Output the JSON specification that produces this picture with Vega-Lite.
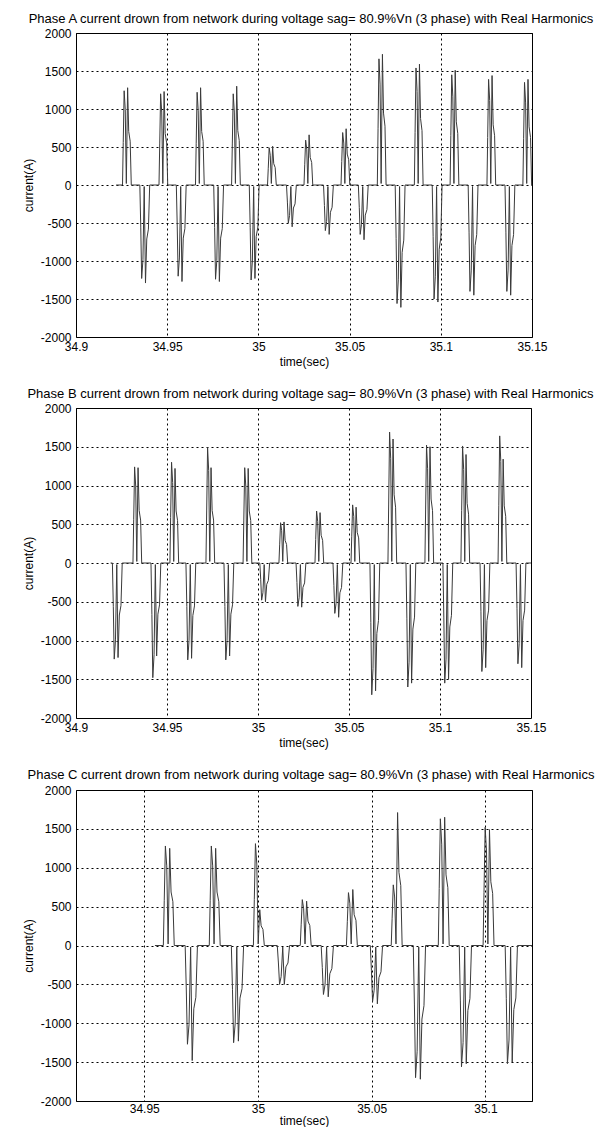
{
  "$schema": "https://vega.github.io/schema/vega-lite/v6.json",
  "background": "white",
  "padding": {"left": 21, "top": 12, "right": 0, "bottom": 0},
  "config": {
    "font": "Liberation Sans",
    "view": {"stroke": "black", "strokeWidth": 1},
    "axis": {
      "grid": true, "gridColor": "black", "gridDash": [2, 3], "gridOpacity": 1, "gridWidth": 1,
      "domain": false, "ticks": false, "labelFlush": false, "labelOverlap": false,
      "labelFont": "Liberation Sans", "labelFontSize": 12, "labelColor": "black",
      "titleFont": "Liberation Sans", "titleFontSize": 12, "titleFontWeight": "normal", "titleColor": "black"
    },
    "title": {"font": "Liberation Sans", "fontSize": 13, "fontWeight": "normal", "color": "black", "offset": 0, "frame": "group", "anchor": "middle", "dx": 7},
    "concat": {"spacing": 19},
    "line": {"color": "#3a3a3a", "strokeWidth": 1, "clip": true}
  },
  "datasets": {
    "phaseA": [
      {"t":34.922,"i":0},
      {"t":34.9255,"i":0},{"t":34.9259,"i":558},{"t":34.9264,"i":1240},{"t":34.927,"i":992},{"t":34.9276,"i":20},{"t":34.9283,"i":1280},{"t":34.9289,"i":704},{"t":34.9297,"i":576},{"t":34.9303,"i":0},
      {"t":34.935,"i":0},{"t":34.9355,"i":-554},{"t":34.936,"i":-1230},{"t":34.9367,"i":-984},{"t":34.9374,"i":-20},{"t":34.9381,"i":-1290},{"t":34.9388,"i":-710},{"t":34.9397,"i":-581},{"t":34.9404,"i":0},
      {"t":34.9455,"i":0},{"t":34.9459,"i":540},{"t":34.9464,"i":1200},{"t":34.947,"i":960},{"t":34.9476,"i":20},{"t":34.9483,"i":1230},{"t":34.9489,"i":677},{"t":34.9497,"i":554},{"t":34.9503,"i":0},
      {"t":34.955,"i":0},{"t":34.9555,"i":-540},{"t":34.956,"i":-1200},{"t":34.9567,"i":-960},{"t":34.9574,"i":-20},{"t":34.9581,"i":-1270},{"t":34.9588,"i":-699},{"t":34.9597,"i":-572},{"t":34.9604,"i":0},
      {"t":34.9655,"i":0},{"t":34.9659,"i":549},{"t":34.9664,"i":1220},{"t":34.967,"i":976},{"t":34.9676,"i":20},{"t":34.9683,"i":1280},{"t":34.9689,"i":704},{"t":34.9697,"i":576},{"t":34.9703,"i":0},
      {"t":34.9755,"i":0},{"t":34.976,"i":-558},{"t":34.9765,"i":-1240},{"t":34.9772,"i":-992},{"t":34.9779,"i":-20},{"t":34.9786,"i":-1270},{"t":34.9793,"i":-699},{"t":34.9802,"i":-572},{"t":34.9809,"i":0},
      {"t":34.9853,"i":0},{"t":34.9857,"i":540},{"t":34.9862,"i":1200},{"t":34.9868,"i":960},{"t":34.9874,"i":20},{"t":34.9881,"i":1300},{"t":34.9887,"i":715},{"t":34.9895,"i":585},{"t":34.9901,"i":0},
      {"t":34.995,"i":0},{"t":34.9955,"i":-563},{"t":34.996,"i":-1250},{"t":34.9967,"i":-1000},{"t":34.9974,"i":-20},{"t":34.9981,"i":-1230},{"t":34.9988,"i":-677},{"t":34.9997,"i":-554},{"t":35.0004,"i":0},
      {"t":35.005,"i":0},{"t":35.0054,"i":221},{"t":35.0059,"i":490},{"t":35.0065,"i":392},{"t":35.0071,"i":20},{"t":35.0078,"i":510},{"t":35.0084,"i":281},{"t":35.0092,"i":230},{"t":35.0098,"i":0},
      {"t":35.0154,"i":0},{"t":35.0159,"i":-225},{"t":35.0164,"i":-500},{"t":35.0171,"i":-400},{"t":35.0178,"i":-20},{"t":35.0185,"i":-550},{"t":35.0192,"i":-303},{"t":35.0201,"i":-248},{"t":35.0208,"i":0},
      {"t":35.025,"i":0},{"t":35.0254,"i":266},{"t":35.0259,"i":590},{"t":35.0265,"i":472},{"t":35.0271,"i":20},{"t":35.0278,"i":660},{"t":35.0284,"i":363},{"t":35.0292,"i":297},{"t":35.0298,"i":0},
      {"t":35.0357,"i":0},{"t":35.0362,"i":-270},{"t":35.0367,"i":-600},{"t":35.0374,"i":-480},{"t":35.0381,"i":-20},{"t":35.0388,"i":-650},{"t":35.0395,"i":-358},{"t":35.0404,"i":-293},{"t":35.0411,"i":0},
      {"t":35.0453,"i":0},{"t":35.0457,"i":311},{"t":35.0462,"i":690},{"t":35.0468,"i":552},{"t":35.0474,"i":20},{"t":35.0481,"i":740},{"t":35.0487,"i":407},{"t":35.0495,"i":333},{"t":35.0501,"i":0},
      {"t":35.0548,"i":0},{"t":35.0553,"i":-293},{"t":35.0558,"i":-650},{"t":35.0565,"i":-520},{"t":35.0572,"i":-20},{"t":35.0579,"i":-720},{"t":35.0586,"i":-396},{"t":35.0595,"i":-324},{"t":35.0602,"i":0},
      {"t":35.0652,"i":0},{"t":35.0656,"i":747},{"t":35.0661,"i":1660},{"t":35.0667,"i":1328},{"t":35.0673,"i":20},{"t":35.068,"i":1720},{"t":35.0686,"i":946},{"t":35.0694,"i":774},{"t":35.07,"i":0},
      {"t":35.075,"i":0},{"t":35.0755,"i":-702},{"t":35.076,"i":-1560},{"t":35.0767,"i":-1248},{"t":35.0774,"i":-20},{"t":35.0781,"i":-1610},{"t":35.0788,"i":-886},{"t":35.0797,"i":-725},{"t":35.0804,"i":0},
      {"t":35.0855,"i":0},{"t":35.0859,"i":693},{"t":35.0864,"i":1540},{"t":35.087,"i":1232},{"t":35.0876,"i":20},{"t":35.0883,"i":1590},{"t":35.0889,"i":875},{"t":35.0897,"i":716},{"t":35.0903,"i":0},
      {"t":35.0953,"i":0},{"t":35.0958,"i":-675},{"t":35.0963,"i":-1500},{"t":35.097,"i":-1200},{"t":35.0977,"i":-20},{"t":35.0984,"i":-1540},{"t":35.0991,"i":-847},{"t":35.1,"i":-693},{"t":35.1007,"i":0},
      {"t":35.1051,"i":0},{"t":35.1055,"i":653},{"t":35.106,"i":1450},{"t":35.1066,"i":1160},{"t":35.1072,"i":20},{"t":35.1079,"i":1510},{"t":35.1085,"i":831},{"t":35.1093,"i":680},{"t":35.1099,"i":0},
      {"t":35.115,"i":0},{"t":35.1155,"i":-630},{"t":35.116,"i":-1400},{"t":35.1167,"i":-1120},{"t":35.1174,"i":-20},{"t":35.1181,"i":-1450},{"t":35.1188,"i":-798},{"t":35.1197,"i":-653},{"t":35.1204,"i":0},
      {"t":35.1253,"i":0},{"t":35.1257,"i":626},{"t":35.1262,"i":1390},{"t":35.1268,"i":1112},{"t":35.1274,"i":20},{"t":35.1281,"i":1440},{"t":35.1287,"i":792},{"t":35.1295,"i":648},{"t":35.1301,"i":0},
      {"t":35.1352,"i":0},{"t":35.1357,"i":-630},{"t":35.1362,"i":-1400},{"t":35.1369,"i":-1120},{"t":35.1376,"i":-20},{"t":35.1383,"i":-1450},{"t":35.139,"i":-798},{"t":35.1399,"i":-653},{"t":35.1406,"i":0},
      {"t":35.145,"i":0},{"t":35.1454,"i":608},{"t":35.1459,"i":1350},{"t":35.1465,"i":1080},{"t":35.1471,"i":20},{"t":35.1478,"i":1390},{"t":35.1484,"i":765},{"t":35.1492,"i":626},{"t":35.1498,"i":0},
      {"t":35.15,"i":0}
    ],
    "phaseB": [
      {"t":34.919,"i":0},
      {"t":34.92,"i":0},{"t":34.9205,"i":-558},{"t":34.921,"i":-1240},{"t":34.9217,"i":-992},{"t":34.9224,"i":-20},{"t":34.9231,"i":-1220},{"t":34.9238,"i":-671},{"t":34.9247,"i":-549},{"t":34.9254,"i":0},
      {"t":34.9313,"i":0},{"t":34.9317,"i":558},{"t":34.9322,"i":1240},{"t":34.9328,"i":992},{"t":34.9334,"i":20},{"t":34.9341,"i":1230},{"t":34.9347,"i":677},{"t":34.9355,"i":554},{"t":34.9361,"i":0},
      {"t":34.9412,"i":0},{"t":34.9417,"i":-666},{"t":34.9422,"i":-1480},{"t":34.9429,"i":-1184},{"t":34.9436,"i":-20},{"t":34.9443,"i":-1200},{"t":34.945,"i":-660},{"t":34.9459,"i":-540},{"t":34.9466,"i":0},
      {"t":34.9516,"i":0},{"t":34.952,"i":585},{"t":34.9525,"i":1300},{"t":34.9531,"i":1040},{"t":34.9537,"i":20},{"t":34.9544,"i":1220},{"t":34.955,"i":671},{"t":34.9558,"i":549},{"t":34.9564,"i":0},
      {"t":34.9604,"i":0},{"t":34.9609,"i":-563},{"t":34.9614,"i":-1250},{"t":34.9621,"i":-1000},{"t":34.9628,"i":-20},{"t":34.9635,"i":-1230},{"t":34.9642,"i":-677},{"t":34.9651,"i":-554},{"t":34.9658,"i":0},
      {"t":34.9714,"i":0},{"t":34.9718,"i":671},{"t":34.9723,"i":1490},{"t":34.9729,"i":1192},{"t":34.9735,"i":20},{"t":34.9742,"i":1230},{"t":34.9748,"i":677},{"t":34.9756,"i":554},{"t":34.9762,"i":0},
      {"t":34.9813,"i":0},{"t":34.9818,"i":-563},{"t":34.9823,"i":-1250},{"t":34.983,"i":-1000},{"t":34.9837,"i":-20},{"t":34.9844,"i":-1200},{"t":34.9851,"i":-660},{"t":34.986,"i":-540},{"t":34.9867,"i":0},
      {"t":34.9918,"i":0},{"t":34.9922,"i":554},{"t":34.9927,"i":1230},{"t":34.9933,"i":984},{"t":34.9939,"i":20},{"t":34.9946,"i":1220},{"t":34.9952,"i":671},{"t":34.996,"i":549},{"t":34.9966,"i":0},
      {"t":35.001,"i":0},{"t":35.0015,"i":-216},{"t":35.002,"i":-480},{"t":35.0027,"i":-384},{"t":35.0034,"i":-20},{"t":35.0041,"i":-500},{"t":35.0048,"i":-275},{"t":35.0057,"i":-225},{"t":35.0064,"i":0},
      {"t":35.0115,"i":0},{"t":35.0119,"i":234},{"t":35.0124,"i":520},{"t":35.013,"i":416},{"t":35.0136,"i":20},{"t":35.0143,"i":530},{"t":35.0149,"i":292},{"t":35.0157,"i":239},{"t":35.0163,"i":0},
      {"t":35.0209,"i":0},{"t":35.0214,"i":-252},{"t":35.0219,"i":-560},{"t":35.0226,"i":-448},{"t":35.0233,"i":-20},{"t":35.024,"i":-570},{"t":35.0247,"i":-314},{"t":35.0256,"i":-257},{"t":35.0263,"i":0},
      {"t":35.0313,"i":0},{"t":35.0317,"i":302},{"t":35.0322,"i":670},{"t":35.0328,"i":536},{"t":35.0334,"i":20},{"t":35.0341,"i":650},{"t":35.0347,"i":358},{"t":35.0355,"i":293},{"t":35.0361,"i":0},
      {"t":35.0412,"i":0},{"t":35.0417,"i":-293},{"t":35.0422,"i":-650},{"t":35.0429,"i":-520},{"t":35.0436,"i":-20},{"t":35.0443,"i":-700},{"t":35.045,"i":-385},{"t":35.0459,"i":-315},{"t":35.0466,"i":0},
      {"t":35.0511,"i":0},{"t":35.0515,"i":338},{"t":35.052,"i":750},{"t":35.0526,"i":600},{"t":35.0532,"i":20},{"t":35.0539,"i":720},{"t":35.0545,"i":396},{"t":35.0553,"i":324},{"t":35.0559,"i":0},
      {"t":35.0615,"i":0},{"t":35.062,"i":-765},{"t":35.0625,"i":-1700},{"t":35.0632,"i":-1360},{"t":35.0639,"i":-20},{"t":35.0646,"i":-1650},{"t":35.0653,"i":-908},{"t":35.0662,"i":-743},{"t":35.0669,"i":0},
      {"t":35.0714,"i":0},{"t":35.0718,"i":761},{"t":35.0723,"i":1690},{"t":35.0729,"i":1352},{"t":35.0735,"i":20},{"t":35.0742,"i":1600},{"t":35.0748,"i":880},{"t":35.0756,"i":720},{"t":35.0762,"i":0},
      {"t":35.0813,"i":0},{"t":35.0818,"i":-720},{"t":35.0823,"i":-1600},{"t":35.083,"i":-1280},{"t":35.0837,"i":-20},{"t":35.0844,"i":-1550},{"t":35.0851,"i":-853},{"t":35.086,"i":-698},{"t":35.0867,"i":0},
      {"t":35.0917,"i":0},{"t":35.0921,"i":684},{"t":35.0926,"i":1520},{"t":35.0932,"i":1216},{"t":35.0938,"i":20},{"t":35.0945,"i":1500},{"t":35.0951,"i":825},{"t":35.0959,"i":675},{"t":35.0965,"i":0},
      {"t":35.1016,"i":0},{"t":35.1021,"i":-698},{"t":35.1026,"i":-1550},{"t":35.1033,"i":-1240},{"t":35.104,"i":-20},{"t":35.1047,"i":-1500},{"t":35.1054,"i":-825},{"t":35.1063,"i":-675},{"t":35.107,"i":0},
      {"t":35.1115,"i":0},{"t":35.1119,"i":680},{"t":35.1124,"i":1510},{"t":35.113,"i":1208},{"t":35.1136,"i":20},{"t":35.1143,"i":1400},{"t":35.1149,"i":770},{"t":35.1157,"i":630},{"t":35.1163,"i":0},
      {"t":35.122,"i":0},{"t":35.1225,"i":-630},{"t":35.123,"i":-1400},{"t":35.1237,"i":-1120},{"t":35.1244,"i":-20},{"t":35.1251,"i":-1350},{"t":35.1258,"i":-743},{"t":35.1267,"i":-608},{"t":35.1274,"i":0},
      {"t":35.1319,"i":0},{"t":35.1323,"i":738},{"t":35.1328,"i":1640},{"t":35.1334,"i":1312},{"t":35.134,"i":20},{"t":35.1347,"i":1340},{"t":35.1353,"i":737},{"t":35.1361,"i":603},{"t":35.1367,"i":0},
      {"t":35.1418,"i":0},{"t":35.1423,"i":-585},{"t":35.1428,"i":-1300},{"t":35.1435,"i":-1040},{"t":35.1442,"i":-20},{"t":35.1449,"i":-1350},{"t":35.1456,"i":-743},{"t":35.1465,"i":-608},{"t":35.1472,"i":0},
      {"t":35.15,"i":0}
    ],
    "phaseC": [
      {"t":34.9547,"i":0},
      {"t":34.9584,"i":0},{"t":34.9588,"i":576},{"t":34.9593,"i":1280},{"t":34.9599,"i":1024},{"t":34.9605,"i":20},{"t":34.9612,"i":1250},{"t":34.9618,"i":688},{"t":34.9626,"i":563},{"t":34.9632,"i":0},
      {"t":34.968,"i":0},{"t":34.9685,"i":-572},{"t":34.969,"i":-1270},{"t":34.9697,"i":-1016},{"t":34.9704,"i":-20},{"t":34.9711,"i":-1480},{"t":34.9718,"i":-814},{"t":34.9727,"i":-666},{"t":34.9734,"i":0},
      {"t":34.9786,"i":0},{"t":34.979,"i":576},{"t":34.9795,"i":1280},{"t":34.9801,"i":1024},{"t":34.9807,"i":20},{"t":34.9814,"i":1250},{"t":34.982,"i":688},{"t":34.9828,"i":563},{"t":34.9834,"i":0},
      {"t":34.9883,"i":0},{"t":34.9888,"i":-563},{"t":34.9893,"i":-1250},{"t":34.99,"i":-1000},{"t":34.9907,"i":-20},{"t":34.9914,"i":-1230},{"t":34.9921,"i":-677},{"t":34.993,"i":-554},{"t":34.9937,"i":0},
      {"t":34.998,"i":0},{"t":34.9984,"i":590},{"t":34.9989,"i":1310},{"t":34.9995,"i":1048},{"t":35.0001,"i":20},{"t":35.0008,"i":460},{"t":35.0014,"i":253},{"t":35.0022,"i":207},{"t":35.0028,"i":0},
      {"t":35.0085,"i":0},{"t":35.009,"i":-225},{"t":35.0095,"i":-500},{"t":35.0102,"i":-400},{"t":35.0109,"i":-20},{"t":35.0116,"i":-500},{"t":35.0123,"i":-275},{"t":35.0132,"i":-225},{"t":35.0139,"i":0},
      {"t":35.0186,"i":0},{"t":35.019,"i":266},{"t":35.0195,"i":590},{"t":35.0201,"i":472},{"t":35.0207,"i":20},{"t":35.0214,"i":570},{"t":35.022,"i":314},{"t":35.0228,"i":257},{"t":35.0234,"i":0},
      {"t":35.0278,"i":0},{"t":35.0283,"i":-284},{"t":35.0288,"i":-630},{"t":35.0295,"i":-504},{"t":35.0302,"i":-20},{"t":35.0309,"i":-660},{"t":35.0316,"i":-363},{"t":35.0325,"i":-297},{"t":35.0332,"i":0},
      {"t":35.0389,"i":0},{"t":35.0393,"i":306},{"t":35.0398,"i":680},{"t":35.0404,"i":544},{"t":35.041,"i":20},{"t":35.0417,"i":720},{"t":35.0423,"i":396},{"t":35.0431,"i":324},{"t":35.0437,"i":0},
      {"t":35.0494,"i":0},{"t":35.0499,"i":-324},{"t":35.0504,"i":-720},{"t":35.0511,"i":-576},{"t":35.0518,"i":-20},{"t":35.0525,"i":-750},{"t":35.0532,"i":-413},{"t":35.0541,"i":-338},{"t":35.0548,"i":0},
      {"t":35.0586,"i":0},{"t":35.059,"i":351},{"t":35.0595,"i":780},{"t":35.0601,"i":624},{"t":35.0607,"i":20},{"t":35.0614,"i":1710},{"t":35.062,"i":941},{"t":35.0628,"i":770},{"t":35.0634,"i":0},
      {"t":35.0683,"i":0},{"t":35.0688,"i":-765},{"t":35.0693,"i":-1700},{"t":35.07,"i":-1360},{"t":35.0707,"i":-20},{"t":35.0714,"i":-1720},{"t":35.0721,"i":-946},{"t":35.073,"i":-774},{"t":35.0737,"i":0},
      {"t":35.0793,"i":0},{"t":35.0797,"i":734},{"t":35.0802,"i":1630},{"t":35.0808,"i":1304},{"t":35.0814,"i":20},{"t":35.0821,"i":1650},{"t":35.0827,"i":908},{"t":35.0835,"i":743},{"t":35.0841,"i":0},
      {"t":35.0885,"i":0},{"t":35.089,"i":-702},{"t":35.0895,"i":-1560},{"t":35.0902,"i":-1248},{"t":35.0909,"i":-20},{"t":35.0916,"i":-1520},{"t":35.0923,"i":-836},{"t":35.0932,"i":-684},{"t":35.0939,"i":0},
      {"t":35.099,"i":0},{"t":35.0994,"i":684},{"t":35.0999,"i":1520},{"t":35.1005,"i":1216},{"t":35.1011,"i":20},{"t":35.1018,"i":1490},{"t":35.1024,"i":820},{"t":35.1032,"i":671},{"t":35.1038,"i":0},
      {"t":35.1087,"i":0},{"t":35.1092,"i":-684},{"t":35.1097,"i":-1520},{"t":35.1104,"i":-1216},{"t":35.1111,"i":-20},{"t":35.1118,"i":-1500},{"t":35.1125,"i":-825},{"t":35.1134,"i":-675},{"t":35.1141,"i":0},
      {"t":35.1205,"i":0}
    ]
  },
  "vconcat": [
    {
      "title": {"text": "Phase A current drown from network during voltage sag= 80.9%Vn (3 phase) with Real Harmonics", "offset": 1},
      "width": 456,
      "height": 304,
      "data": {"name": "phaseA"},
      "mark": {"type": "line"},
      "encoding": {
        "x": {"field": "t", "type": "quantitative",
              "scale": {"domain": [34.9, 35.15], "nice": false, "zero": false},
              "axis": {"title": "time(sec)", "values": [34.9, 34.95, 35, 35.05, 35.1, 35.15], "format": ".2~f", "labelPadding": 4, "titlePadding": 4}},
        "y": {"field": "i", "type": "quantitative",
              "scale": {"domain": [-2000, 2000], "nice": false},
              "axis": {"title": "current(A)", "values": [-2000, -1500, -1000, -500, 0, 500, 1000, 1500, 2000],
                       "labelExpr": "datum.value < 0 ? '-' + (-datum.value) : '' + datum.value", "labelPadding": 5, "titlePadding": 5}}
      }
    },
    {
      "title": {"text": "Phase B current drown from network during voltage sag= 80.9%Vn (3 phase) with Real Harmonics", "offset": 1},
      "width": 455,
      "height": 310,
      "data": {"name": "phaseB"},
      "mark": {"type": "line"},
      "encoding": {
        "x": {"field": "t", "type": "quantitative",
              "scale": {"domain": [34.9, 35.15], "nice": false, "zero": false},
              "axis": {"title": "time(sec)", "values": [34.9, 34.95, 35, 35.05, 35.1, 35.15], "format": ".2~f", "labelPadding": 4, "titlePadding": 4}},
        "y": {"field": "i", "type": "quantitative",
              "scale": {"domain": [-2000, 2000], "nice": false},
              "axis": {"title": "current(A)", "values": [-2000, -1500, -1000, -500, 0, 500, 1000, 1500, 2000],
                       "labelExpr": "datum.value < 0 ? '-' + (-datum.value) : '' + datum.value", "labelPadding": 5, "titlePadding": 5}}
      }
    },
    {
      "title": {"text": "Phase C current drown from network during voltage sag= 80.9%Vn (3 phase) with Real Harmonics", "offset": 2},
      "width": 456,
      "height": 311,
      "data": {"name": "phaseC"},
      "mark": {"type": "line"},
      "encoding": {
        "x": {"field": "t", "type": "quantitative",
              "scale": {"domain": [34.92, 35.1205], "nice": false, "zero": false},
              "axis": {"title": "time(sec)", "values": [34.95, 35, 35.05, 35.1], "format": ".2~f", "labelPadding": 2, "titlePadding": 1}},
        "y": {"field": "i", "type": "quantitative",
              "scale": {"domain": [-2000, 2000], "nice": false},
              "axis": {"title": "current(A)", "values": [-2000, -1500, -1000, -500, 0, 500, 1000, 1500, 2000],
                       "labelExpr": "datum.value < 0 ? '-' + (-datum.value) : '' + datum.value", "labelPadding": 5, "titlePadding": 5}}
      }
    }
  ]
}
